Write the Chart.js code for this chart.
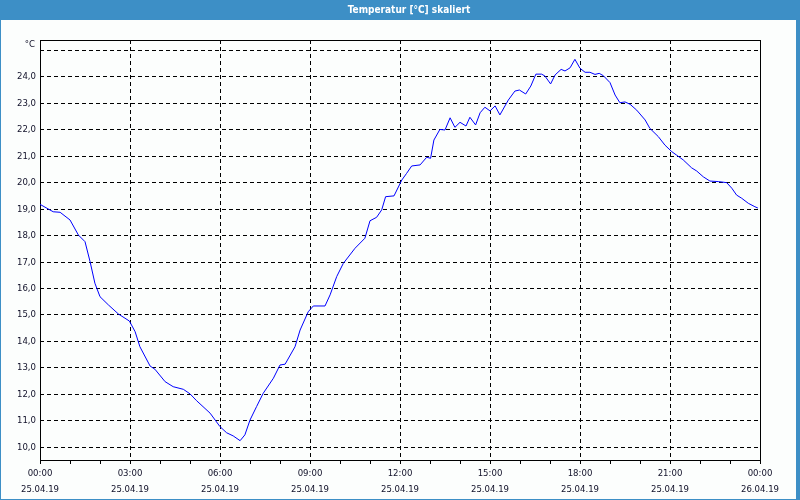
<!DOCTYPE html>
<html>
<head>
<meta charset="utf-8">
<script src="https://cdn.jsdelivr.net/npm/chart.js@4"></script>
<style>
  html, body { margin: 0; padding: 0; background: #fcfefd; }
  canvas { display: block; }
</style>
</head>
<body>
<canvas id="c" width="800" height="500"></canvas>
<script>
// ---- data ----
const chartTitle = 'Temperatur [°C] skaliert';
const unitLabel = '°C';

// time of day in hours since 25.04.19 00:00
const hours = [
  0.00, 0.44, 0.67, 1.00, 1.28, 1.50, 1.67, 1.83, 2.00, 2.28, 2.61, 2.98,
  3.17, 3.33, 3.67, 3.83, 4.17, 4.44, 4.78, 5.00, 5.22, 5.67, 6.00, 6.22,
  6.44, 6.67, 6.83, 7.00, 7.22, 7.44, 7.78, 8.00, 8.17, 8.50, 8.67, 8.94,
  9.11, 9.50, 9.67, 9.89, 10.11, 10.50, 10.83, 11.00, 11.22, 11.39, 11.52, 11.80,
  12.06, 12.22, 12.39, 12.67, 12.89, 13.02, 13.13, 13.33, 13.50, 13.67, 13.83, 14.00,
  14.20, 14.33, 14.52, 14.67, 14.83, 15.00, 15.17, 15.33, 15.61, 15.83, 15.98, 16.19,
  16.36, 16.53, 16.72, 16.83, 17.02, 17.17, 17.37, 17.50, 17.67, 17.83, 18.00, 18.17,
  18.33, 18.50, 18.64, 18.78, 19.00, 19.17, 19.33, 19.50, 19.67, 19.89, 20.17, 20.33,
  20.61, 20.83, 21.06, 21.22, 21.44, 21.72, 21.89, 22.11, 22.33, 22.61, 22.89, 23.06,
  23.22, 23.39, 23.61, 23.83, 23.93
];
const temperatures = [
  19.18, 18.90, 18.88, 18.59, 18.02, 17.77, 17.01, 16.20, 15.69, 15.38, 15.04, 14.77,
  14.37, 13.80, 13.07, 12.95, 12.48, 12.29, 12.19, 12.02, 11.76, 11.29, 10.78, 10.55,
  10.43, 10.25, 10.47, 11.03, 11.54, 12.04, 12.61, 13.11, 13.14, 13.80, 14.43, 15.12,
  15.34, 15.34, 15.76, 16.45, 16.95, 17.52, 17.90, 18.56, 18.69, 18.97, 19.47, 19.50,
  20.10, 20.35, 20.63, 20.67, 20.96, 20.92, 21.61, 22.01, 21.99, 22.45, 22.09, 22.28,
  22.14, 22.47, 22.18, 22.64, 22.85, 22.71, 22.90, 22.56, 23.12, 23.46, 23.50, 23.35,
  23.65, 24.10, 24.10, 24.03, 23.73, 24.07, 24.28, 24.22, 24.34, 24.66, 24.32, 24.17,
  24.17, 24.09, 24.13, 24.04, 23.78, 23.31, 23.02, 23.05, 22.96, 22.74, 22.37, 22.05,
  21.74, 21.42, 21.17, 21.04, 20.86, 20.56, 20.44, 20.22, 20.06, 20.04, 20.00, 19.79,
  19.53, 19.41, 19.22, 19.09, 19.04
];

// x axis: tick every hour, labelled every 3 hours
const xTickHours = [0,1,2,3,4,5,6,7,8,9,10,11,12,13,14,15,16,17,18,19,20,21,22,23,24];
const xLabelHours = [0, 3, 6, 9, 12, 15, 18, 21, 24];
const xLabelTimes = ['00:00','03:00','06:00','09:00','12:00','15:00','18:00','21:00','00:00'];
const xLabelDates = ['25.04.19','25.04.19','25.04.19','25.04.19','25.04.19','25.04.19','25.04.19','25.04.19','26.04.19'];

// y axis
const yTickValues = [10,11,12,13,14,15,16,17,18,19,20,21,22,23,24,25];
const yLabelled = [10,11,12,13,14,15,16,17,18,19,20,21,22,23,24];
const yMin = 9.52, yMax = 25.39;

// ---- styling ----
const FONT = "'DejaVu Sans Condensed', 'Liberation Sans', sans-serif";
const TXT = '#101028';
const BAR = '#3d8fc6';
const DASH = [4, 3];

const frame = {
  id: 'frame',
  beforeDraw(chart) {
    const ctx = chart.ctx, w = chart.width, h = chart.height;
    ctx.save();
    ctx.fillStyle = '#fcfefd';
    ctx.fillRect(0, 0, w, h);
    ctx.fillStyle = BAR;
    ctx.fillRect(0, 0, w, 20);
    ctx.fillRect(0, 0, 1, h);
    ctx.fillRect(w - 4, 0, 4, h);
    ctx.fillRect(0, h - 1, w, 1);
    ctx.fillStyle = '#ffffff';
    ctx.font = 'bold 10px ' + FONT;
    ctx.textAlign = 'center';
    ctx.textBaseline = 'middle';
    ctx.fillText(chartTitle, 409, 10);
    ctx.restore();
  },
  beforeDatasetsDraw(chart) {
    const ctx = chart.ctx, a = chart.chartArea;
    ctx.save();
    ctx.strokeStyle = '#000';
    ctx.lineWidth = 1;
    ctx.setLineDash([]);
    ctx.strokeRect(Math.round(a.left) + 0.5, Math.round(a.top) + 0.5,
                   Math.round(a.right - a.left), Math.round(a.bottom - a.top));
    ctx.fillStyle = TXT;
    ctx.font = '9.5px ' + FONT;
    ctx.textAlign = 'right';
    ctx.textBaseline = 'middle';
    ctx.fillText(unitLabel, a.left - 5, a.top + 5);
    ctx.restore();
  }
};

new Chart(document.getElementById('c'), {
  type: 'line',
  data: {
    datasets: [{
      data: hours.map((hh, i) => ({ x: hh, y: temperatures[i] })),
      borderColor: '#0000ff',
      borderWidth: 1,
      pointRadius: 0,
      tension: 0,
      fill: false
    }]
  },
  options: {
    responsive: false,
    devicePixelRatio: 1,
    animation: false,
    layout: { padding: { left: 0, right: 40, top: 40, bottom: 0 } },
    plugins: { legend: { display: false }, tooltip: { enabled: false }, title: { display: false } },
    scales: {
      x: {
        type: 'linear',
        min: 0, max: 24,
        afterBuildTicks(scale) { scale.ticks = xTickHours.map(v => ({ value: v })); },
        afterFit(scale) { scale.height = 40; },
        ticks: {
          autoSkip: false, maxRotation: 0, minRotation: 0,
          padding: 2,
          color: TXT,
          font: { family: FONT, size: 9.5, lineHeight: 1.65 },
          callback(v) {
            const k = xLabelHours.indexOf(v);
            return k < 0 ? '' : [xLabelTimes[k], xLabelDates[k]];
          }
        },
        grid: {
          color: (c) => (c.tick && xLabelHours.includes(c.tick.value)) ? '#000' : 'rgba(0,0,0,0)',
          lineWidth: 1,
          tickColor: '#000',
          tickLength: 4,
          drawTicks: true
        },
        border: { display: false, dash: DASH }
      },
      y: {
        type: 'linear',
        min: yMin, max: yMax,
        afterBuildTicks(scale) { scale.ticks = yTickValues.map(v => ({ value: v })); },
        afterFit(scale) { scale.width = 40; },
        ticks: {
          padding: 4,
          color: TXT,
          font: { family: FONT, size: 9.5 },
          callback(v) { return yLabelled.includes(v) ? v.toFixed(1).replace('.', ',') : ''; }
        },
        grid: { color: '#000', lineWidth: 1, drawTicks: false },
        border: { display: false, dash: DASH }
      }
    }
  },
  plugins: [frame]
});
</script>
</body>
</html>
